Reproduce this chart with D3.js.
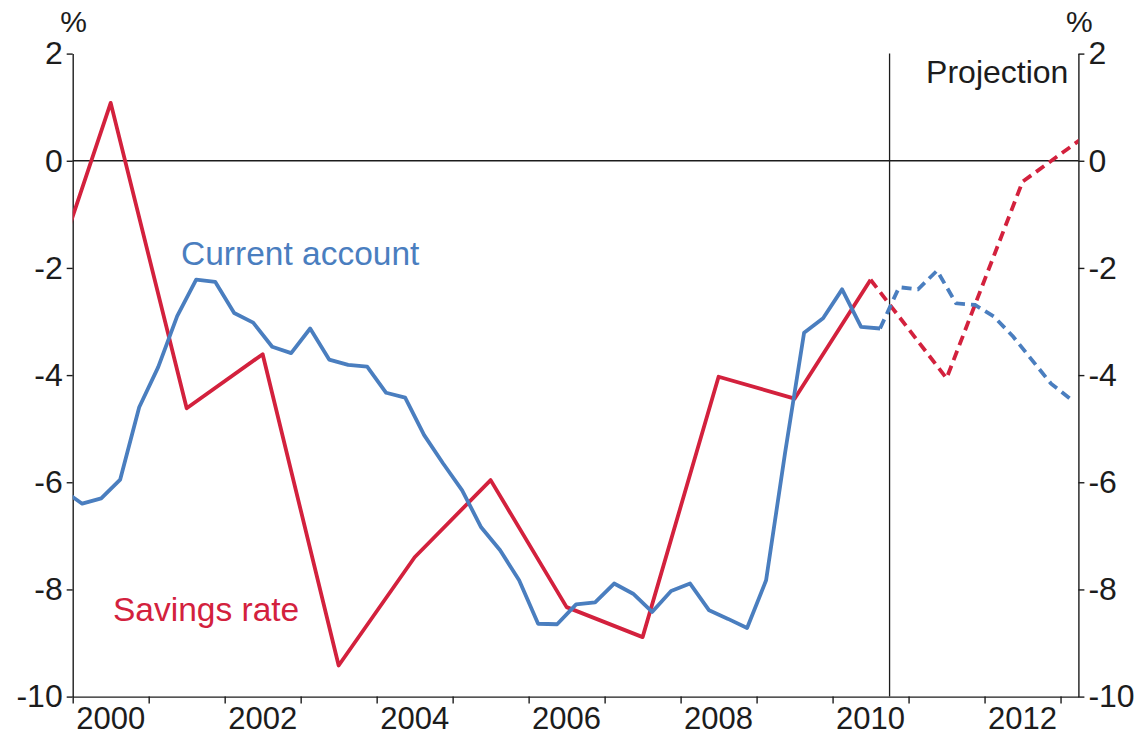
<!DOCTYPE html>
<html>
<head>
<meta charset="utf-8">
<script src="https://cdn.jsdelivr.net/npm/d3@7"></script>
<style>
  body { margin: 0; background: #fff; }
  text { font-family: "Liberation Sans", Arial, sans-serif; }
</style>
</head>
<body>
<div id="chart"></div>
<script>
// current account, quarterly, % of GDP
var caQuarters = ["1999Q4",
  "2000Q1", "2000Q2", "2000Q3", "2000Q4",
  "2001Q1", "2001Q2", "2001Q3", "2001Q4",
  "2002Q1", "2002Q2", "2002Q3", "2002Q4",
  "2003Q1", "2003Q2", "2003Q3", "2003Q4",
  "2004Q1", "2004Q2", "2004Q3", "2004Q4",
  "2005Q1", "2005Q2", "2005Q3", "2005Q4",
  "2006Q1", "2006Q2", "2006Q3", "2006Q4",
  "2007Q1", "2007Q2", "2007Q3", "2007Q4",
  "2008Q1", "2008Q2", "2008Q3", "2008Q4",
  "2009Q1", "2009Q2", "2009Q3", "2009Q4",
  "2010Q1", "2010Q2", "2010Q3", "2010Q4",
  "2011Q1", "2011Q2", "2011Q3", "2011Q4",
  "2012Q1", "2012Q2", "2012Q3", "2012Q4",
  "2013Q1"];
var caValues = [-6.15,
  -6.4, -6.3, -5.95, -4.6,
  -3.85, -2.9, -2.22, -2.26,
  -2.84, -3.02, -3.47, -3.59,
  -3.13, -3.71, -3.81, -3.84,
  -4.33, -4.42, -5.12, -5.65,
  -6.15, -6.84, -7.27, -7.83,
  -8.64, -8.65, -8.28, -8.24,
  -7.89, -8.08, -8.42, -8.03,
  -7.89, -8.39, -8.55, -8.72,
  -7.83, -5.45, -3.21, -2.94,
  -2.40, -3.10, -3.13, -2.36,
  -2.40, -2.05, -2.66, -2.69,
  -2.91, -3.28, -3.72, -4.16,
  -4.44];
var caLastActual = "2010Q3";

// savings rate, annual (plotted mid-year)
var savYears = [1999, 2000, 2001, 2002, 2003, 2004, 2005, 2006, 2007, 2008, 2009, 2010, 2011, 2012, 2013];
var savValues = [-3.16, 1.08, -4.62, -3.61, -9.42, -7.4, -5.96, -8.33, -8.89, -4.03, -4.44, -2.22, -4.06, -0.39, 0.64];
var savLastActual = 2010;

var yTicks = [2, 0, -2, -4, -6, -8, -10];
var xTickYears = d3.range(2000, 2014);
var xLabelYears = [2000, 2002, 2004, 2006, 2008, 2010, 2012];
var projectionStart = 2010.75;

var width = 1144, height = 736;
var margin = { top: 53.6, right: 65.6, bottom: 39.4, left: 72.7 };
var innerW = width - margin.left - margin.right,
    innerH = height - margin.top - margin.bottom;

var blue = "#4a7ebf", red = "#d3213d", ink = "#1c1c1c";

var svg = d3.select("#chart")
    .append("svg")
    .attr("width", width)
    .attr("height", height);

var g = svg.append("g")
    .attr("transform", "translate(" + margin.left + "," + margin.top + ")");

var x = d3.scaleLinear()
    .domain([2000, 2013.235])
    .range([0, innerW]);

var y = d3.scaleLinear()
    .domain([-10, 2])
    .range([innerH, 0]);

function quarterPos(q) {
    return +q.slice(0, 4) + (+q.slice(5) - 0.5) / 4;
}

// plain hyphen for negatives, like the original
function plain(d) { return String(d); }

var caData = caQuarters.map(function (q, i) { return { t: quarterPos(q), v: caValues[i], q: q }; });
var savData = savYears.map(function (yr, i) { return { t: yr + 0.5, v: savValues[i], yr: yr }; });

var caSplit = caQuarters.indexOf(caLastActual);
var savSplit = savYears.indexOf(savLastActual);

g.append("clipPath").attr("id", "plot")
    .append("rect")
    .attr("x", 0).attr("y", -20)
    .attr("width", innerW).attr("height", innerH + 40);

// zero line
g.append("line")
    .attr("x1", 0).attr("x2", innerW)
    .attr("y1", y(0)).attr("y2", y(0))
    .attr("stroke", ink).attr("stroke-width", 1.3);

// projection divider
g.append("line")
    .attr("x1", x(projectionStart)).attr("x2", x(projectionStart))
    .attr("y1", y(2)).attr("y2", innerH)
    .attr("stroke", ink).attr("stroke-width", 1.3);

// axes
var xAxis = g.append("g")
    .attr("transform", "translate(0," + innerH + ")")
    .call(d3.axisBottom(x).tickValues(xTickYears).tickSize(7).tickSizeOuter(0).tickFormat(""));

var yLeft = g.append("g")
    .call(d3.axisLeft(y).tickValues(yTicks).tickSize(6).tickPadding(4).tickSizeOuter(0).tickFormat(plain));

var yRight = g.append("g")
    .attr("transform", "translate(" + innerW + ",0)")
    .call(d3.axisRight(y).tickValues(yTicks).tickSize(6).tickPadding(4).tickSizeOuter(0).tickFormat(plain));

[xAxis, yLeft, yRight].forEach(function (a) {
    a.selectAll("path, line").attr("stroke", ink).attr("stroke-width", 1.4);
    a.selectAll("text")
        .attr("fill", ink)
        .style("font-size", "32px")
        .style("font-family", "'Liberation Sans', Arial, sans-serif");
});

// year labels centred on even years
g.selectAll(".ylab")
    .data(xLabelYears)
    .enter()
    .append("text")
    .attr("x", function (d) { return x(d + 0.5); })
    .attr("y", innerH + 32)
    .attr("text-anchor", "middle")
    .attr("fill", ink)
    .style("font-size", "31px")
    .text(function (d) { return d; });

// % units
svg.append("text").attr("x", margin.left + 1).attr("y", 32)
    .attr("text-anchor", "middle").attr("fill", ink).style("font-size", "30px").text("%");
svg.append("text").attr("x", margin.left + innerW + 1).attr("y", 32)
    .attr("text-anchor", "middle").attr("fill", ink).style("font-size", "30px").text("%");

// lines
var line = d3.line()
    .x(function (d) { return x(d.t); })
    .y(function (d) { return y(d.v); });

var lines = g.append("g").attr("clip-path", "url(#plot)");

function drawSeries(data, split, colour) {
    lines.append("path")
        .datum(data.slice(0, split + 1))
        .attr("d", line)
        .attr("fill", "none")
        .attr("stroke", colour)
        .attr("stroke-width", 3.8)
        .attr("stroke-linejoin", "round");
    lines.append("path")
        .datum(data.slice(split))
        .attr("d", line)
        .attr("fill", "none")
        .attr("stroke", colour)
        .attr("stroke-width", 3.8)
        .attr("stroke-dasharray", "10,6");
}

drawSeries(savData, savSplit, red);
drawSeries(caData, caSplit, blue);

// annotations
g.append("text")
    .attr("x", 181 - margin.left).attr("y", 265 - margin.top)
    .attr("fill", blue).style("font-size", "33.5px")
    .text("Current account");

g.append("text")
    .attr("x", 113 - margin.left).attr("y", 621 - margin.top)
    .attr("fill", red).style("font-size", "33.5px")
    .text("Savings rate");

g.append("text")
    .attr("x", innerW - 10).attr("y", 83 - margin.top)
    .attr("text-anchor", "end")
    .attr("fill", ink).style("font-size", "32px")
    .text("Projection");
</script>
</body>
</html>
